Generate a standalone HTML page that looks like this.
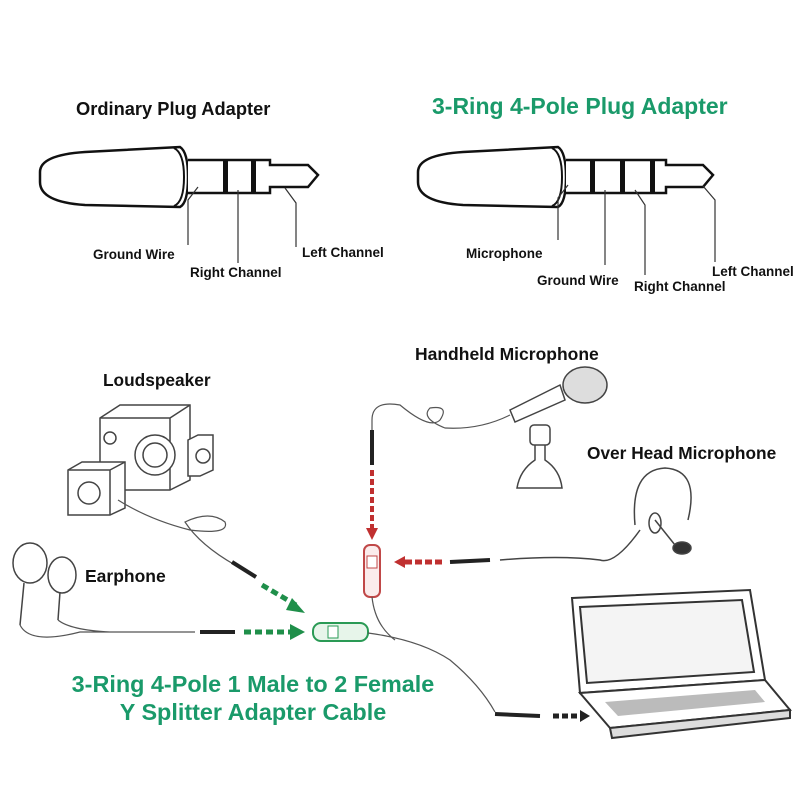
<!DOCTYPE html>
<html><head><meta charset="utf-8"><style>
body{margin:0;background:#fff}
svg{display:block}
text{font-family:"Liberation Sans",sans-serif;font-weight:bold}
</style></head><body>
<svg width="800" height="800" viewBox="0 0 800 800" xmlns="http://www.w3.org/2000/svg">
<rect width="800" height="800" fill="#fff"/>
<text x="76" y="115" font-size="18.3" fill="#111">Ordinary Plug Adapter</text>
<text x="432" y="114" font-size="23" fill="#1a9a6a">3-Ring 4-Pole Plug Adapter</text>

<g transform="translate(40,147)">
<path d="M0,25 Q0,8 45,5 L140,0 Q148,5 148,30 Q148,56 140,60 L45,58 Q0,55 0,35 Z" fill="#fff" stroke="#111" stroke-width="2.5"/>
<path d="M134,1 Q144,6 144,30 Q144,55 134,59" fill="none" stroke="#111" stroke-width="2"/>
<path d="M148,13 L230,13 L230,18 L268,18 L278,28 L268,40 L230,40 L230,46 L148,46" fill="#fff" stroke="#111" stroke-width="2.5"/>
<rect x="183" y="13" width="5" height="33" fill="#111"/>
<rect x="211" y="13" width="5" height="33" fill="#111"/>
</g>
<g stroke="#333" stroke-width="1.2" fill="none">
<path d="M198,187 L188,200 L188,245"/>
<path d="M238,190 L238,263"/>
<path d="M285,188 L296,203 L296,247"/>
</g>
<text x="93" y="259" font-size="13.5" fill="#111">Ground Wire</text>
<text x="190" y="277" font-size="13.5" fill="#111">Right Channel</text>
<text x="302" y="257" font-size="13.5" fill="#111">Left Channel</text>

<g transform="translate(418,147)">
<path d="M0,25 Q0,8 45,5 L140,0 Q148,5 148,30 Q148,56 140,60 L45,58 Q0,55 0,35 Z" fill="#fff" stroke="#111" stroke-width="2.5"/>
<path d="M134,1 Q144,6 144,30 Q144,55 134,59" fill="none" stroke="#111" stroke-width="2"/>
<path d="M148,13 L248,13 L248,18 L285,18 L295,28 L285,40 L248,40 L248,46 L148,46" fill="#fff" stroke="#111" stroke-width="2.5"/>
<rect x="172" y="13" width="5" height="33" fill="#111"/>
<rect x="202" y="13" width="5" height="33" fill="#111"/>
<rect x="232" y="13" width="5" height="33" fill="#111"/>
</g>
<g stroke="#333" stroke-width="1.2" fill="none">
<path d="M568,185 L558,198 L558,240"/>
<path d="M605,190 L605,265"/>
<path d="M635,190 L645,205 L645,275"/>
<path d="M703,186 L715,200 L715,262"/>
</g>
<text x="466" y="258" font-size="13.5" fill="#111">Microphone</text>
<text x="537" y="285" font-size="13.5" fill="#111">Ground Wire</text>
<text x="634" y="291" font-size="13.5" fill="#111">Right Channel</text>
<text x="712" y="276" font-size="13.5" fill="#111">Left Channel</text>

<text x="103" y="386" font-size="17.3" fill="#111">Loudspeaker</text>
<text x="415" y="360" font-size="17.5" fill="#111">Handheld Microphone</text>
<text x="587" y="459" font-size="17.3" fill="#111">Over Head Microphone</text>
<text x="85" y="582" font-size="17.5" fill="#111">Earphone</text>
<text x="253" y="692" font-size="23.4" fill="#1a9a6a" text-anchor="middle">3-Ring 4-Pole 1 Male to 2 Female</text>
<text x="253" y="720" font-size="23.4" fill="#1a9a6a" text-anchor="middle">Y Splitter Adapter Cable</text>

<g fill="#fff" stroke="#444" stroke-width="1.5">
<path d="M100,418 L120,405 L190,405 L190,480 L170,490 L100,490 Z"/>
<path d="M100,418 L170,418 L170,490 M170,418 L190,405"/>
<circle cx="155" cy="455" r="20"/><circle cx="155" cy="455" r="12"/>
<circle cx="110" cy="438" r="6"/>
<path d="M68,470 L82,462 L125,462 L125,508 L110,515 L68,515 Z"/>
<path d="M68,470 L110,470 L110,515 M110,470 L125,462"/>
<circle cx="89" cy="493" r="11"/>
<path d="M188,440 L198,435 L213,435 L213,470 L200,476 L188,476 Z"/>
<circle cx="203" cy="456" r="7"/>
</g>
<path d="M118,500 Q150,520 190,530 Q230,535 225,522 Q210,510 185,522 Q200,545 235,565" fill="none" stroke="#555" stroke-width="1.2"/>
<path d="M232,562 L256,577" stroke="#222" stroke-width="4"/>
<g fill="#fff" stroke="#444" stroke-width="1.5">
<ellipse cx="30" cy="563" rx="17" ry="20"/>
<ellipse cx="62" cy="575" rx="14" ry="18"/>
<path d="M24,583 L20,625 M60,592 L58,620"/>
</g>
<path d="M20,625 Q30,645 80,632 L195,632 M58,620 Q70,630 110,632" fill="none" stroke="#555" stroke-width="1.2"/>
<path d="M200,632 L235,632" stroke="#222" stroke-width="4"/>
<path d="M244,632 L290,632" stroke="#1f8f4a" stroke-width="5" stroke-dasharray="7,4"/>
<path d="M290,624 L305,632 L290,640 Z" fill="#1f8f4a"/>
<path d="M262,585 L296,605" stroke="#1f8f4a" stroke-width="5" stroke-dasharray="7,4"/>
<path d="M292,598 L305,613 L286,610 Z" fill="#1f8f4a"/>
<rect x="313" y="623" width="55" height="18" rx="8" fill="#e7f5ea" stroke="#2a9a55" stroke-width="2"/>
<rect x="328" y="626" width="10" height="12" fill="#fff" stroke="#2a9a55"/>
<path d="M368,633 Q420,640 450,660 Q480,685 495,712" fill="none" stroke="#555" stroke-width="1.2"/>
<path d="M495,714 L540,716" stroke="#222" stroke-width="4"/>
<path d="M553,716 L580,716" stroke="#222" stroke-width="5" stroke-dasharray="6,3"/>
<path d="M580,710 L590,716 L580,722 Z" fill="#222"/>
<rect x="364" y="545" width="16" height="52" rx="6" fill="#fbecec" stroke="#c04848" stroke-width="2"/>
<rect x="367" y="556" width="10" height="12" fill="#fff" stroke="#c04848"/>
<path d="M372,597 Q375,625 395,640" fill="none" stroke="#555" stroke-width="1.2"/>
<path d="M372,470 L372,530" stroke="#c03030" stroke-width="4" stroke-dasharray="6,3"/>
<path d="M366,528 L372,540 L378,528 Z" fill="#c03030"/>
<path d="M405,562 L445,562" stroke="#c03030" stroke-width="5" stroke-dasharray="7,3"/>
<path d="M405,556 L394,562 L405,568 Z" fill="#c03030"/>
<path d="M450,562 L490,560" stroke="#222" stroke-width="4"/>
<path d="M372,465 L372,420 Q372,400 400,405 Q430,430 440,420 Q450,405 430,408 Q420,418 445,428 Q480,430 510,415" fill="none" stroke="#555" stroke-width="1.2"/>
<path d="M372,430 L372,465" stroke="#222" stroke-width="4"/>
<g fill="#fff" stroke="#444" stroke-width="1.5">
<path d="M517,488 Q520,470 535,460 L535,440 L545,440 L545,460 Q560,470 562,488 Z"/>
<path d="M510,410 L560,385 L565,400 L515,422 Z"/>
<ellipse cx="585" cy="385" rx="22" ry="18" fill="#ddd"/>
<rect x="530" y="425" width="20" height="20" rx="4"/>
</g>
<g fill="none" stroke="#444" stroke-width="1.5">
<path d="M635,525 Q630,470 665,468 Q700,470 688,520"/>
<ellipse cx="655" cy="523" rx="6" ry="10"/>
<path d="M655,520 L675,545"/>
<ellipse cx="682" cy="548" rx="9" ry="6" fill="#333"/>
<path d="M640,530 Q615,565 600,560 Q560,555 500,560"/>
</g>
<g fill="#fff" stroke="#333" stroke-width="2">
<path d="M572,598 L750,590 L765,680 L580,693 Z"/>
<path d="M580,607 L742,600 L754,672 L587,683 Z" fill="#f4f4f4"/>
<path d="M580,693 L765,680 L790,710 L610,728 Z"/>
<path d="M610,728 L790,710 L790,718 L612,738 Z" fill="#ddd"/>
</g>
<path d="M605,702 L755,690 L765,702 L618,716 Z" fill="#bbb"/>
</svg>
</body></html>
